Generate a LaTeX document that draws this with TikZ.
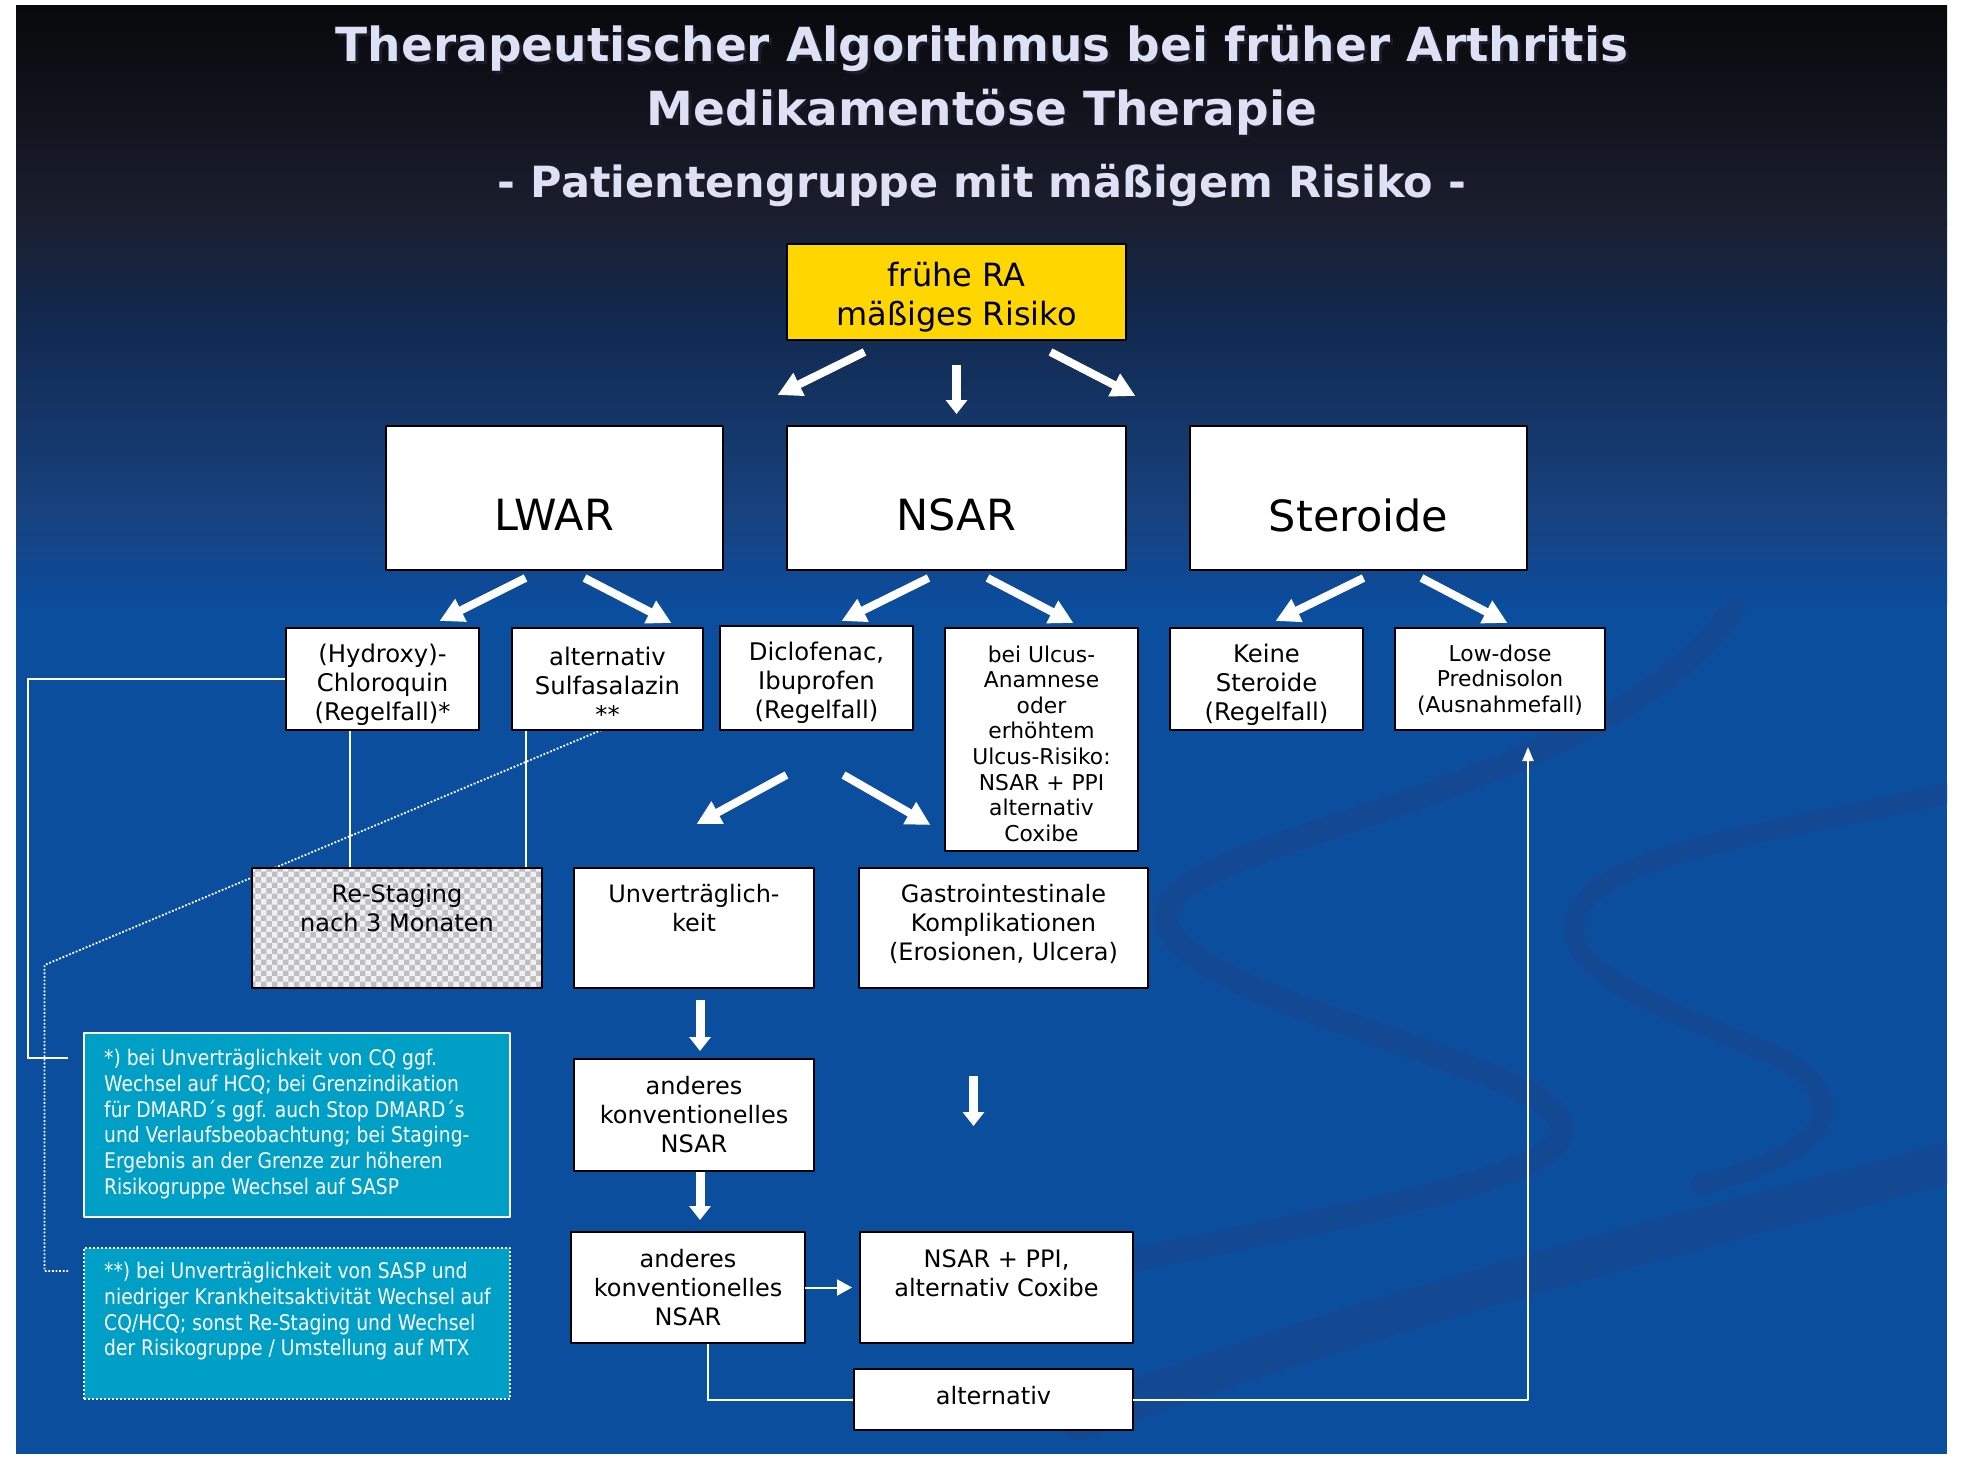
\documentclass[tikz,border=0pt]{standalone}
\usepackage{fontspec}
\setmainfont{DejaVu Sans}
\newfontfamily\notefont[FakeStretch=0.87]{DejaVu Sans}
\usetikzlibrary{arrows.meta,patterns,positioning}
\pgfdeclarelayer{back}
\pgfdeclarelayer{lines}
\pgfsetlayers{back,lines,main}
\definecolor{bgA}{RGB}{8,9,11}
\definecolor{bgB}{RGB}{27,31,48}
\definecolor{bgC}{RGB}{17,41,79}
\definecolor{bgD}{RGB}{24,66,127}
\definecolor{bgE}{RGB}{11,76,156}
\definecolor{bgblue}{RGB}{12,78,158}
\definecolor{swooshblue}{RGB}{19,73,146}
\definecolor{titlecol}{RGB}{222,224,246}
\definecolor{titleshadow}{RGB}{28,28,38}
\definecolor{rayellow}{RGB}{255,214,0}
\definecolor{notecyan}{RGB}{0,160,198}
\definecolor{chkA}{RGB}{240,240,240}
\definecolor{chkB}{RGB}{190,190,196}
\begin{document}
\begin{tikzpicture}[x=1pt, y=-1pt, line join=round,
    frame/.style={draw=black, line width=2.5pt, inner sep=0pt, outer sep=0pt, anchor=north west, align=center},
    box/.style={frame, fill=white},
    big/.style={font=\fontsize{43}{50}\selectfont},
    mid/.style={font=\fontsize{24}{29}\selectfont},
    rowthree/.style={font=\fontsize{24.3}{29}\selectfont},
    small/.style={font=\fontsize{21.8}{25.6}\selectfont},
    intext/.style={inner sep=0pt, align=center},
    boxtext/.style={mid, align=center, inner sep=0pt, anchor=north},
    titletxt/.style={anchor=base, inner sep=0pt, text=titlecol, font=\fontsize{47}{56}\selectfont\bfseries},
    note/.style={draw=white, line width=2pt, fill=notecyan, inner sep=0pt, outer sep=0pt, anchor=north west},
    notetext/.style={text=white, align=left, inner sep=0pt, anchor=north west, font=\notefont\fontsize{21.5}{25.8}\selectfont},
    fat/.style={draw=white, line width=8pt, -{Triangle[length=24pt,width=24pt]}},
    fatdown/.style={draw=white, line width=9pt, -{Triangle[length=14pt,width=21pt]}},
    thinline/.style={draw=white, line width=2pt},
    dotline/.style={draw=white, line width=1.8pt, dash pattern=on 1.8pt off 1.8pt},
    swoosh/.style={draw=swooshblue, line cap=round}]
\useasboundingbox (0,0) rectangle (1966,1464);

% background
\begin{pgfonlayer}{back}
  \fill[white] (0,0) rectangle (1966,1464);
  \shade[top color=bgA, bottom color=bgB] (16,6) rectangle (1947,224);
  \shade[top color=bgB, bottom color=bgC] (16,223) rectangle (1947,321);
  \shade[top color=bgC, bottom color=bgD] (16,320) rectangle (1947,514);
  \shade[top color=bgD, bottom color=bgE] (16,513) rectangle (1947,604);
  \fill[bgblue] (16,603) rectangle (1947,1454);
  \begin{scope}
    \clip (16,6) rectangle (1947,1454);
    \draw[swoosh, line width=24pt] (1060,1275) .. controls (1350,1215) and (1590,1175) .. (1560,1120)
      .. controls (1530,1060) and (1180,1000) .. (1165,920) .. controls (1150,840) and (1600,800) .. (1733,610);
    \draw[swoosh, line width=20pt] (1700,1185) .. controls (1800,1160) and (1860,1120) .. (1800,1070)
      .. controls (1740,1030) and (1560,990) .. (1575,920) .. controls (1590,850) and (1800,830) .. (1960,790);
    \draw[swoosh, line width=40pt] (1080,1420) .. controls (1400,1300) and (1700,1230) .. (1960,1160);
  \end{scope}
\end{pgfonlayer}

% title
\node[titletxt, text=titleshadow] (t1s) at (985,65) {Therapeutischer Algorithmus bei früher Arthritis};
\node[titletxt] (t1) at (982,62) {Therapeutischer Algorithmus bei früher Arthritis};
\node[titletxt, text=titleshadow] (t2s) at (985,128) {Medikamentöse Therapie};
\node[titletxt] (t2) at (982,125) {Medikamentöse Therapie};
\node[titletxt, text=titleshadow, font=\fontsize{43}{52}\selectfont\bfseries] (t3s) at (985,200) {- Patientengruppe mit mäßigem Risiko -};
\node[titletxt, font=\fontsize{43}{52}\selectfont\bfseries] (t3) at (982,197) {- Patientengruppe mit mäßigem Risiko -};

% boxes
\node[box, fill=rayellow, minimum width=339pt, minimum height=96pt] (ra) at (787,244) {};
\node[intext, font=\fontsize{32}{39}\selectfont] (rat) at ([yshift=-5pt]ra.center) {frühe RA\\mäßiges Risiko};

\node[box, minimum width=337pt, minimum height=144pt] (lw) at (386,426) {};
\node[box, minimum width=339pt, minimum height=144pt] (ns) at (787,426) {};
\node[box, minimum width=337pt, minimum height=144pt] (st) at (1190,426) {};
\node[big, inner sep=0pt] (lwt) at ([yshift=-17pt]lw.center) {LWAR};
\node[big, inner sep=0pt] (nst) at ([yshift=-17pt]ns.center) {NSAR};
\node[big, inner sep=0pt] (stt) at ([yshift=-17pt]st.center) {Steroide};

\node[box, minimum width=193pt, minimum height=102pt] (hcq) at (286,628) {};
\node[box, minimum width=191pt, minimum height=102pt] (sas) at (512,628) {};
\node[box, minimum width=193pt, minimum height=104pt] (dic) at (720,626) {};
\node[box, minimum width=193pt, minimum height=223pt] (ulc) at (945,628) {};
\node[box, minimum width=193pt, minimum height=102pt] (kst) at (1170,628) {};
\node[box, minimum width=210pt, minimum height=102pt] (low) at (1395,628) {};
\node[intext, rowthree] (hcqt) at ([yshift=-6pt]hcq.center) {(Hydroxy)-\\Chloroquin\\(Regelfall)*};
\node[intext, rowthree] (sast) at ([yshift=-6pt]sas.center) {alternativ\\Sulfasalazin\\**};
\node[intext, rowthree] (dict) at ([yshift=-5pt]dic.center) {Diclofenac,\\Ibuprofen\\(Regelfall)};
\node[intext, small] (ulct) at ([yshift=-4pt]ulc.center) {bei Ulcus-\\Anamnese\\oder\\erhöhtem\\Ulcus-Risiko:\\NSAR + PPI\\alternativ\\Coxibe};
\node[intext, rowthree] (kstt) at ([yshift=-6pt]kst.center) {Keine\\Steroide\\(Regelfall)};
\node[intext, small] (lowt) at ([yshift=-1pt]low.center) {Low-dose\\Prednisolon\\(Ausnahmefall)};

\node[frame, minimum width=290pt, minimum height=120pt, preaction={fill=chkA}, pattern=checkerboard, pattern color=chkB] (rst) at (252,868) {};
\node[box, minimum width=240pt, minimum height=120pt] (unv) at (574,868) {};
\node[box, minimum width=289pt, minimum height=120pt] (gas) at (859,868) {};
\node[boxtext] (rstt) at ([yshift=-16pt]rst.north) {Re-Staging\\nach 3 Monaten};
\node[boxtext] (unvt) at ([yshift=-16pt]unv.north) {Unverträglich-\\keit};
\node[boxtext] (gast) at ([yshift=-16pt]gas.north) {Gastrointestinale\\Komplikationen\\(Erosionen, Ulcera)};

\node[box, mid, minimum width=240pt, minimum height=112pt] (nsa) at (574,1059) {anderes\\konventionelles\\NSAR};
\node[box, mid, minimum width=234pt, minimum height=111pt] (nsb) at (571,1232) {anderes\\konventionelles\\NSAR};
\node[box, minimum width=273pt, minimum height=111pt] (ppi) at (860,1232) {};
\node[boxtext] (ppit) at ([yshift=-17pt]ppi.north) {NSAR + PPI,\\alternativ Coxibe};
\node[box, minimum width=279pt, minimum height=61pt] (alt) at (854,1369) {};
\node[intext, mid] (altt) at ([yshift=4pt]alt.center) {alternativ};

% footnotes
\node[note, minimum width=426pt, minimum height=184pt] (note1) at (84,1033) {};
\node[notetext] (note1t) at ([shift={(20,16)}]note1.north west) {*) bei Unverträglichkeit von CQ ggf.\\Wechsel auf HCQ; bei Grenzindikation\\für DMARD´s ggf. auch Stop DMARD´s\\und Verlaufsbeobachtung; bei Staging-\\Ergebnis an der Grenze zur höheren\\Risikogruppe Wechsel auf SASP};
\node[note, dash pattern=on 2pt off 2pt, minimum width=426pt, minimum height=151pt] (note2) at (84,1248) {};
\node[notetext] (note2t) at ([shift={(20,14)}]note2.north west) {**) bei Unverträglichkeit von SASP und\\niedriger Krankheitsaktivität Wechsel auf\\CQ/HCQ; sonst Re-Staging und Wechsel\\der Risikogruppe / Umstellung auf MTX};
\coordinate (n1in) at ([shift={(-16,25)}]note1.north west);
\coordinate (n2in) at ([shift={(-16,23)}]note2.north west);

% thin connectors
\begin{pgfonlayer}{lines}
  \draw[thinline] ([xshift=-33pt]hcq.south) -- ([xshift=-33pt]hcq.south |- rst.north);
  \draw[thinline] ([xshift=-82pt]sas.south) -- ([xshift=-82pt]sas.south |- rst.north);
  \draw[thinline] (hcq.west) -- ++(-258,0) |- (n1in);
  \draw[dotline] ([xshift=-6pt]sas.south) -- ++(-557,235) |- (n2in);
  \draw[thinline] ([xshift=20pt]nsb.south) |- (alt.west);
\end{pgfonlayer}
\draw[thinline, -{Triangle[length=15pt,width=16pt]}] (nsb.east) -- ([xshift=-8pt]ppi.west);
\draw[thinline, -{Triangle[length=14pt,width=11pt]}] (alt.east) -| ([shift={(28,17)}]low.south);

% fat arrows
\draw[fat] ([shift={(-92,12)}]ra.south) -- ++(-87,43);
\draw[fatdown] ([shift={(0,25)}]ra.south) -- ++(0,49);
\draw[fat] ([shift={(94,12)}]ra.south) -- ++(85,44);
\draw[fat] ([shift={(-29,8)}]lw.south) -- ++(-86,43);
\draw[fat] ([shift={(30,8)}]lw.south) -- ++(87,45);
\draw[fat] ([shift={(-28,8)}]ns.south) -- ++(-87,43);
\draw[fat] ([shift={(31,8)}]ns.south) -- ++(86,45);
\draw[fat] ([shift={(5,8)}]st.south) -- ++(-88,43);
\draw[fat] ([shift={(63,8)}]st.south) -- ++(86,45);
\draw[fat] ([shift={(-30,45)}]dic.south) -- ++(-90,49);
\draw[fat] ([shift={(27,45)}]dic.south) -- ++(87,50);
\draw[fatdown] ([shift={(6,12)}]unv.south) -- ++(0,51);
\draw[fatdown] ([shift={(-30,88)}]gas.south) -- ++(0,50);
\draw[fatdown] ([shift={(6,1)}]nsa.south) -- ++(0,48);
\end{tikzpicture}
\end{document}
